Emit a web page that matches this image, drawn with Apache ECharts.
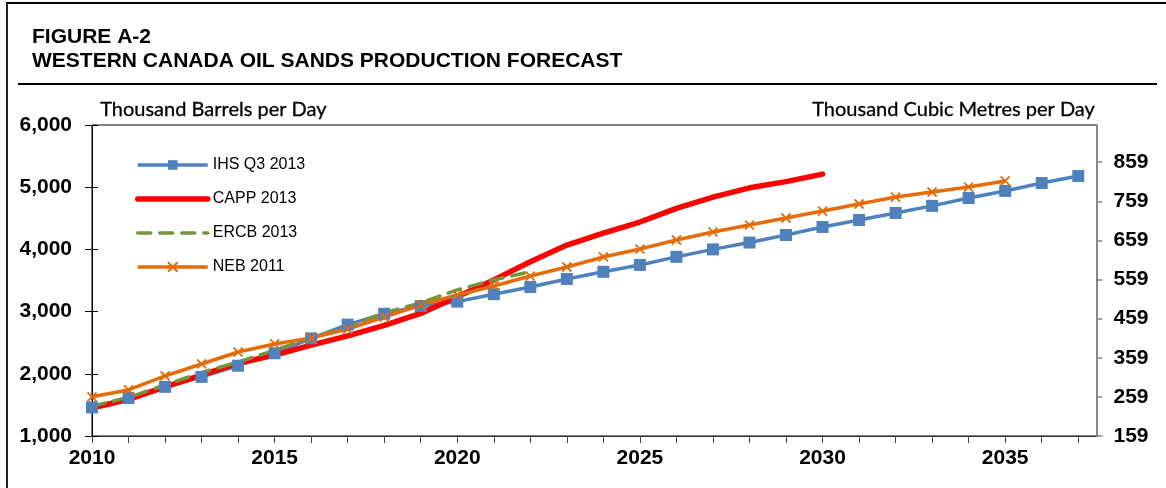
<!DOCTYPE html>
<html>
<head>
<meta charset="utf-8">
<script src="https://cdn.jsdelivr.net/npm/echarts@6/dist/echarts.min.js"></script>
<style>
html,body{margin:0;padding:0;background:#fff;}
#chart{width:1166px;height:488px;}
</style>
</head>
<body>
<div id="chart"></div>
<script>
// ---- data (thousand barrels per day) ----
const startYear = 2010;
const ihsQ3_2013 = [1460,1610,1790,1950,2130,2330,2570,2790,2965,3090,3160,3280,3395,3525,3640,3750,3880,4000,4110,4232,4360,4473,4585,4700,4826,4940,5067,5180];
const capp2013   = [1450,1590,1790,1980,2170,2300,2460,2610,2780,2970,3240,3510,3800,4070,4260,4440,4660,4840,4990,5090,5210];
const ercb2013   = [1480,1620,1820,2020,2190,2380,2575,2750,2980,3140,3350,3510,3640];
const neb2011    = [1630,1740,1965,2158,2350,2480,2575,2720,2913,3106,3267,3412,3572,3717,3878,4006,4151,4280,4392,4505,4617,4730,4842,4923,5003,5100];
const seriesNames = ['IHS Q3 2013','CAPP 2013','ERCB 2013','NEB 2011'];
const leftTicks = [1000,2000,3000,4000,5000,6000];
const rightTicks = [159,259,359,459,559,659,759,859];
const xLabelYears = [2010,2015,2020,2025,2030,2035];
const titleLines = ['FIGURE A-2','WESTERN CANADA OIL SANDS PRODUCTION FORECAST'];
const leftAxisTitle = 'Thousand Barrels per Day';
const rightAxisTitle = 'Thousand Cubic Metres per Day';
const M3_PER_BBL = 0.15899;

function pairs(arr){ return arr.map((v,i)=>[startYear+i, v]); }

const chart = echarts.init(document.getElementById('chart'), null, {renderer:'canvas'});
const lblFont = {fontFamily:'Liberation Sans, Arial, sans-serif', fontWeight:'bold', fontSize:21, color:'#000'};
const yMin = leftTicks[0], yMax = leftTicks[leftTicks.length-1];

chart.setOption({
  animation:false,
  backgroundColor:'#fff',
  title:{
    text: titleLines.join('\n'),
    left:27, top:20,
    textStyle:{fontFamily:'Liberation Sans, Arial, sans-serif', fontWeight:'bold', fontSize:21, lineHeight:24, color:'#000'}
  },
  graphic:[
    {type:'line', shape:{x1:6,y1:3,x2:1166,y2:3}, style:{stroke:'#000', lineWidth:2}},
    {type:'line', shape:{x1:7,y1:3,x2:7,y2:488}, style:{stroke:'#222', lineWidth:2}},
    {type:'line', shape:{x1:18,y1:84,x2:1157,y2:84}, style:{stroke:'#000', lineWidth:2}},
    {type:'text', left:100, top:99, style:{text:leftAxisTitle, font:'20px Lato, "Open Sans", sans-serif', fill:'#000', stroke:'#000', lineWidth:0.3}},
    {type:'text', right:71, top:99, style:{text:rightAxisTitle, font:'20px Lato, "Open Sans", sans-serif', fill:'#000', stroke:'#000', lineWidth:0.3}}
  ],
  legend:{
    orient:'vertical', left:130, top:152,
    itemWidth:70, itemHeight:12, itemGap:18,
    data:[
      {name:seriesNames[0], lineStyle:{width:3.5}},
      {name:seriesNames[1], itemStyle:{opacity:0}, lineStyle:{width:5.5, cap:'round'}},
      {name:seriesNames[2], itemStyle:{opacity:0}, lineStyle:{width:3.5, type:[13,9], cap:'round'}},
      {name:seriesNames[3], lineStyle:{width:3.5}}
    ],
    textStyle:{fontFamily:'Liberation Sans, Arial, sans-serif', fontSize:16, color:'#000', lineHeight:16}
  },
  grid:{left:92, right:69.5, top:125, bottom:52, show:true, borderColor:'#000', borderWidth:1},
  xAxis:{
    type:'value', min:2010, max:2037.5, interval:1,
    splitLine:{show:false},
    axisLine:{show:true, lineStyle:{color:'#333', width:1}},
    axisTick:{show:true, inside:false, length:7, lineStyle:{color:'#444'}},
    axisLabel:Object.assign({margin:12, showMaxLabel:false, formatter:v=> xLabelYears.indexOf(v)>=0 ? String(v) : ''}, lblFont)
  },
  yAxis:[
    {
      type:'value', position:'left', min:yMin, max:yMax, interval:1000,
      splitLine:{show:false},
      axisLine:{show:true, lineStyle:{color:'#000', width:1}},
      axisTick:{show:true, inside:false, length:7, lineStyle:{color:'#000'}},
      axisLabel:Object.assign({margin:20, formatter:v=> leftTicks.indexOf(v)>=0 ? v.toLocaleString('en-US') : ''}, lblFont)
    },
    {
      type:'value', position:'right', min:rightTicks[0], max:+(yMax*M3_PER_BBL).toFixed(2), interval:100,
      splitLine:{show:false},
      axisLine:{show:true, lineStyle:{color:'#888', width:2}},
      axisTick:{show:true, inside:false, length:6, lineStyle:{color:'#888', width:1.5}},
      axisLabel:Object.assign({margin:17, showMaxLabel:false, formatter:v=> rightTicks.indexOf(v)>=0 ? String(v) : ''}, lblFont)
    },
    {
      type:'value', position:'left', min:yMin, max:yMax, interval:1000,
      splitLine:{show:false}, axisLine:{show:false}, axisLabel:{show:false},
      axisTick:{show:true, inside:true, length:6, lineStyle:{color:'#000'}}
    }
  ],
  series:[
    {
      name:seriesNames[0], type:'line', data:pairs(ihsQ3_2013),
      symbol:'rect', symbolSize:12, showSymbol:true,
      lineStyle:{color:'#4F81BD', width:3.5},
      itemStyle:{color:'#4F81BD'}
    },
    {
      name:seriesNames[1], type:'line', data:pairs(capp2013),
      symbol:'none', showSymbol:false,
      lineStyle:{color:'#FF0000', width:5.5, cap:'round', join:'round'},
      itemStyle:{color:'#FF0000'}
    },
    {
      name:seriesNames[2], type:'line', data:pairs(ercb2013),
      symbol:'none', showSymbol:false,
      lineStyle:{color:'#77933C', width:3.5, type:[13,9], cap:'round'},
      itemStyle:{color:'#77933C'}
    },
    {
      name:seriesNames[3], type:'line', data:pairs(neb2011),
      symbol:'path://M0,0L10,10M10,0L0,10', symbolSize:9, showSymbol:true,
      lineStyle:{color:'#E46C0A', width:3.5},
      itemStyle:{color:'#E46C0A', borderColor:'#E46C0A', borderWidth:1.8}
    }
  ]
});
</script>
</body>
</html>
